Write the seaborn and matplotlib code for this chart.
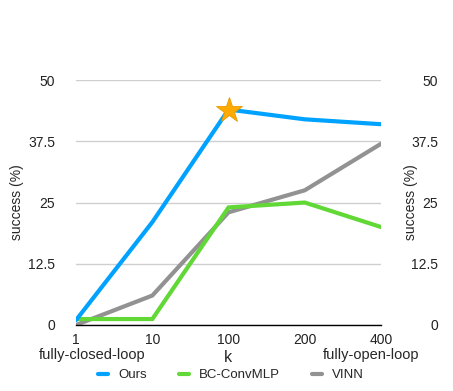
import numpy as np
import pandas as pd
import matplotlib
matplotlib.use("Agg")
import matplotlib.pyplot as plt
import seaborn as sns

# data
k_labels = ["1", "10", "100", "200", "400"]
ours = [1, 21, 44, 42, 41]
bc_convmlp = [1.2, 1.2, 24, 25, 20]
vinn = [0, 6, 23, 27.5, 37]
y_ticks = [0, 12.5, 25, 37.5, 50]
y_tick_labels = ["0", "12.5", "25", "37.5", "50"]

series = {"Ours": ours, "BC-ConvMLP": bc_convmlp, "VINN": vinn}
colors = {"Ours": "#00A2FF", "BC-ConvMLP": "#61D836", "VINN": "#929292"}

rows = []
for name, vals in series.items():
    for i, v in enumerate(vals):
        rows.append({"pos": i, "k": k_labels[i], "success": v, "method": name})
df = pd.DataFrame(rows)

sns.set_style("white")
plt.rcParams["font.family"] = ["Liberation Sans", "DejaVu Sans"]

fig = plt.figure(figsize=(4.53, 3.91), dpi=100)
ax = fig.add_axes([0.168, 0.169, 0.673, 0.626])

# draw order: gray under green under blue
for name in ["VINN", "BC-ConvMLP", "Ours"]:
    sns.lineplot(data=df[df.method == name], x="pos", y="success", color=colors[name],
                 linewidth=3, ax=ax, legend=False, solid_joinstyle="miter", zorder=3)

# star on best result of Ours
best = int(np.argmax(ours))
ax.plot(best, ours[best], marker="*", markersize=19, color="#FFAA00",
        markeredgecolor="#E89A00", markeredgewidth=0.6, zorder=5, clip_on=False)

ax.set_xlim(0, len(k_labels) - 1)
ax.set_ylim(0, 50)
ax.set_xticks(range(len(k_labels)))
ax.set_xticklabels(k_labels, fontsize=10)
ax.set_yticks(y_ticks)
ax.set_yticklabels(y_tick_labels, fontsize=10)
ax.tick_params(axis="both", length=0, labelcolor="#222222")
ax.tick_params(axis="y", pad=15)
ax.tick_params(axis="x", pad=6)
ax.grid(axis="y", color="#CFCFCF", linewidth=1)
ax.grid(axis="x", visible=False)
for s in ["top", "left", "right"]:
    ax.spines[s].set_visible(False)
ax.spines["bottom"].set_color("black")
ax.spines["bottom"].set_linewidth(1)
ax.spines["bottom"].set_zorder(4)
ax.set_xlabel("")
ax.set_ylabel("success (%)", fontsize=10)
ax.yaxis.set_label_coords(-0.17, 0.5)

# right axis duplicate
ax2 = ax.twinx()
ax2.set_ylim(0, 50)
ax2.set_yticks(y_ticks)
ax2.set_yticklabels(y_tick_labels, fontsize=10, ha="right")
ax2.tick_params(axis="y", length=0, pad=41, labelcolor="#222222")
for s in ax2.spines.values():
    s.set_visible(False)
ax2.set_ylabel("success (%)", fontsize=10)
ax2.yaxis.set_label_coords(1.075, 0.5)

fig.text(0.203, 0.092, "fully-closed-loop", fontsize=10.5, ha="center", va="center")
fig.text(0.504, 0.086, "k", fontsize=11.5, ha="center", va="center")
fig.text(0.82, 0.092, "fully-open-loop", fontsize=10.5, ha="center", va="center")

handles = [plt.Line2D([], [], color=colors[n], linewidth=3) for n in series]
fig.legend(handles, list(series), loc="center", bbox_to_anchor=(0.51, 0.04), ncol=3,
           frameon=False, fontsize=9.5, handlelength=0.75, handletextpad=0.8,
           columnspacing=2.4)

fig.savefig("out.png", dpi=100)
